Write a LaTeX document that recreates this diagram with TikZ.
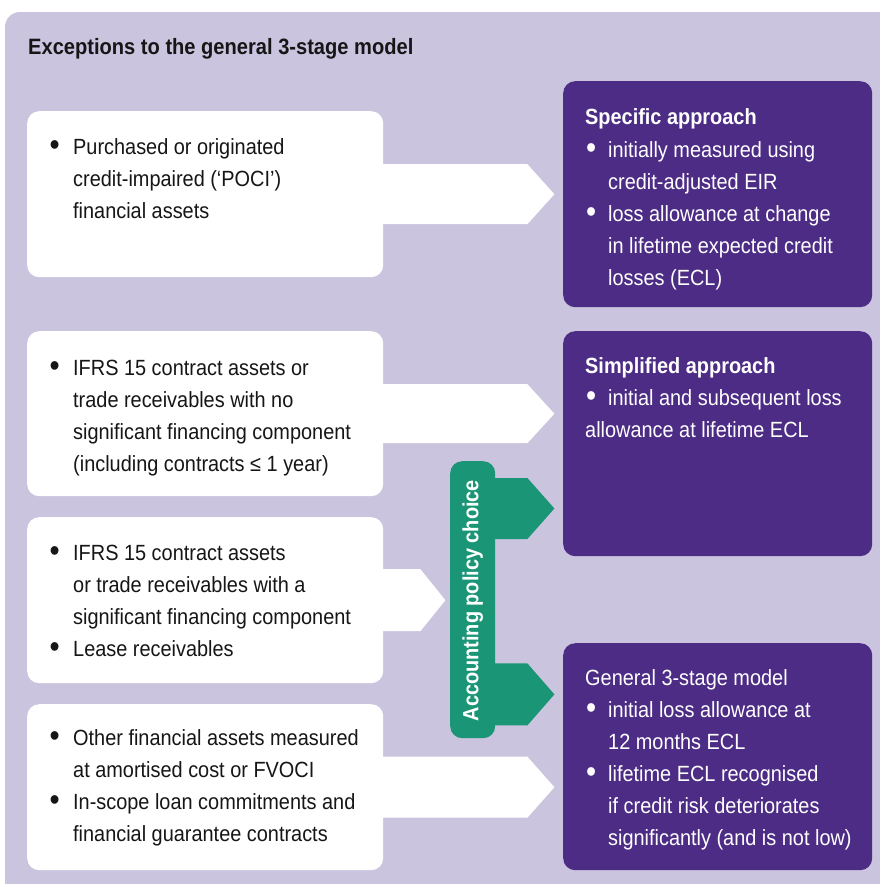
\documentclass[tikz,border=0pt]{standalone}
\usepackage{fontspec}
\usepackage{graphicx}
\setmainfont{Liberation Sans}[FakeStretch=0.905]
\usetikzlibrary{calc}
\definecolor{bgc}{HTML}{CAC4DF}
\definecolor{purp}{HTML}{4D2C85}
\definecolor{grn}{HTML}{1A9676}
\definecolor{ink}{HTML}{161616}
\newcommand\bdot{\raisebox{-1.2pt}{\scalebox{1.45}{•}}}
\newcommand\bul{\makebox[23pt][l]{\hspace{-0.5pt}\bdot}}
\newcommand\rbul{\makebox[23pt][l]{\hspace{1pt}\bdot}}
\newcommand\ind{\hspace*{23pt}}
\tikzset{
  wbox/.style={fill=white, rounded corners=12pt, inner sep=0, anchor=north west, minimum width=356pt, minimum height=166pt},
  pbox/.style={fill=purp, rounded corners=12pt, inner sep=0, anchor=north west, minimum width=309pt},
  wtxt/.style={inner sep=0, anchor=base west, text=ink, font=\fontsize{22}{32}\selectfont},
  ptxt/.style={inner sep=0, anchor=base west, text=white, font=\fontsize{22}{32}\selectfont},
  warrow/.style={fill=white},
  garrow/.style={fill=grn}
}
\begin{document}
\begin{tikzpicture}[x=1pt,y=-1pt]
\useasboundingbox (0,0) rectangle (880,884);
\fill[white] (0,0) rectangle (880,884);
% background panel
\fill[bgc] (5,884) [rounded corners=15pt] -- (5,12) [sharp corners] -- (880,12) -- (880,884) -- cycle;
% title
\node[inner sep=0, anchor=base west, text=ink, font=\fontsize{22.2}{32}\selectfont\bfseries] (title) at (28,54) {Exceptions to the general 3-stage model};

% white boxes
\node[wbox] (b1) at (27,111) {};
\node[wbox, minimum height=165pt] (b2) at (27,331) {};
\node[wbox] (b3) at (27,517) {};
\node[wbox] (b4) at (27,704) {};

% purple boxes
\node[pbox, minimum height=226pt] (p1) at (563,81) {};
\node[pbox, minimum height=225pt] (p2) at (563,331) {};
\node[pbox, minimum height=227pt] (p3) at (563,643) {};

% green bar
\node[fill=grn, rounded corners=12pt, inner sep=0, anchor=north west, minimum width=45pt, minimum height=277pt] (g) at (450,461) {};

% white arrows
\fill[warrow] ($(b1.east)+(-2,-30)$) -- ($(b1.east)+(144,-30)$) -- ($(b1.east)+(171,0)$) coordinate (t1) -- ($(b1.east)+(144,30)$) -- ($(b1.east)+(-2,30)$) -- cycle;
\fill[warrow] ($(b2.east)+(-2,-29.5)$) -- ($(b2.east)+(144,-29.5)$) -- ($(b2.east)+(171,0)$) coordinate (t2) -- ($(b2.east)+(144,29.5)$) -- ($(b2.east)+(-2,29.5)$) -- cycle;
\fill[warrow] ($(b3.east)+(-2,-31)$) -- ($(b3.east)+(37,-31)$) -- ($(b3.east)+(62,0)$) coordinate (t3) -- ($(b3.east)+(37,31)$) -- ($(b3.east)+(-2,31)$) -- cycle;
\fill[warrow] ($(b4.east)+(-2,-30.5)$) -- ($(b4.east)+(144,-30.5)$) -- ($(b4.east)+(171,0)$) coordinate (t4) -- ($(b4.east)+(144,30.5)$) -- ($(b4.east)+(-2,30.5)$) -- cycle;

% green arrows
\fill[garrow] ($(g.north east)+(-2,17)$) -- ($(g.north east)+(32,17)$) -- ($(g.north east)+(59,47.5)$) coordinate (gt1) -- ($(g.north east)+(32,78)$) -- ($(g.north east)+(-2,78)$) -- cycle;
\fill[garrow] ($(g.south east)+(-2,-75)$) -- ($(g.south east)+(32,-75)$) -- ($(g.south east)+(59,-44)$) coordinate (gt2) -- ($(g.south east)+(32,-13)$) -- ($(g.south east)+(-2,-13)$) -- cycle;

\node[inner sep=0, rotate=90, text=white, font=\fontsize{22}{32}\selectfont\bfseries] (gl) at ($(g.center)+(0,1)$) {Accounting policy choice};

% left texts
\node[wtxt] (tb1) at (50,154) {\parbox[t]{330pt}{\raggedright
\bul Purchased or originated\\
\ind credit-impaired (‘POCI’)\\
\ind financial assets}};
\node[wtxt] (tb2) at (50,375) {\parbox[t]{330pt}{\raggedright
\bul IFRS 15 contract assets or\\
\ind trade receivables with no\\
\ind significant financing component\\
\ind (including contracts ≤ 1 year)}};
\node[wtxt] (tb3) at (50,560) {\parbox[t]{330pt}{\raggedright
\bul IFRS 15 contract assets\\
\ind or trade receivables with a\\
\ind significant financing component\\
\bul Lease receivables}};
\node[wtxt] (tb4) at (50,745) {\parbox[t]{330pt}{\raggedright
\bul Other financial assets measured\\
\ind at amortised cost or FVOCI\\
\bul In-scope loan commitments and\\
\ind financial guarantee contracts}};

% right texts
\node[ptxt] (tp1) at (585,124) {\parbox[t]{285pt}{\raggedright
{\bfseries Specific approach}\\[1pt]
\rbul initially measured using\\
\ind credit-adjusted EIR\\
\rbul loss allowance at change\\
\ind in lifetime expected credit\\
\ind losses (ECL)}};
\node[ptxt] (tp2) at (585,373) {\parbox[t]{285pt}{\raggedright
{\bfseries Simplified approach}\\
\rbul initial and subsequent loss\\
allowance at lifetime ECL}};
\node[ptxt] (tp3) at (585,685) {\parbox[t]{285pt}{\raggedright
General 3-stage model\\
\rbul initial loss allowance at\\
\ind 12 months ECL\\
\rbul lifetime ECL recognised\\
\ind if credit risk deteriorates\\
\ind significantly (and is not low)}};
\end{tikzpicture}
\end{document}
